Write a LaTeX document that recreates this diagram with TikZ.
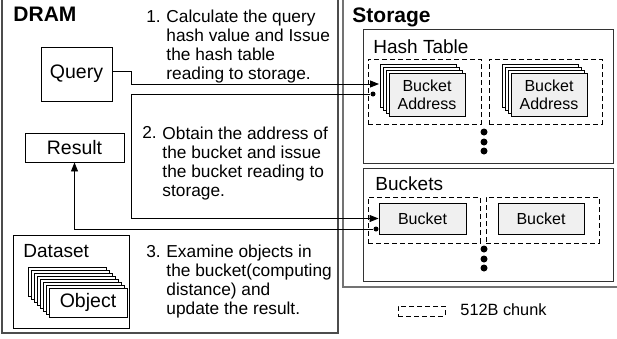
\documentclass[tikz,border=0pt]{standalone}
\usepackage{fontspec}
\setmainfont{Liberation Sans}
\usetikzlibrary{arrows.meta}
\tikzset{>={Triangle[length=9pt,width=7pt]}}
\tikzset{
  box/.style={draw,inner sep=0pt,font=\fontsize{19.5}{22}\selectfont},
  chunk/.style={draw,dash pattern=on 5pt off 3pt,line width=0.8pt,inner sep=0pt},
  cell/.style={draw,fill=black!6,inner sep=0pt,align=center,font=\fontsize{16}{18}\selectfont},
  steptext/.style={anchor=north west,align=left,inner sep=0pt,font=\fontsize{17.3}{19}\selectfont},
  title/.style={anchor=base west,inner sep=0pt,font=\bfseries\fontsize{21}{24}\selectfont},
  part/.style={anchor=base west,inner sep=0pt,font=\fontsize{19}{22}\selectfont},
  bullet/.style={circle,fill,inner sep=0pt,minimum size=5pt}
}
\begin{document}
\begin{tikzpicture}[x=1pt,y=-1pt,line width=0.9pt]
\clip (0,0) rectangle (617,338);

% DRAM side
\draw[line width=1.5pt,black!70] (2,-5) rectangle (338,333);
\node[title] (dram) at (13,21) {DRAM};
\node[box,minimum width=71pt,minimum height=54pt] (query) at (76.5,74) {Query};
\node[box,minimum width=99pt,minimum height=29pt] (result) at (74.5,147.5) {Result};
\node[draw,minimum width=116pt,minimum height=93pt] (dataset) at (71,281.5) {};
\node[part] at (23,257) {Dataset};
\foreach \i in {7,6,...,1}
  \draw[fill=white] ({49-3*\i},{288-3*\i}) rectangle ++(78,29);
\node[box,fill=white,minimum width=78pt,minimum height=29pt] (object) at (88,302.5) {Object};

% steps
\node[steptext] (step1) at (166,10) {Calculate the query\\hash value and Issue\\the hash table\\reading to storage.};
\node[steptext,anchor=north east] at (step1.north west) {1.~};
\node[steptext] (step2) at (162,126.4) {Obtain the address of\\the bucket and issue\\the bucket reading to\\storage.};
\node[steptext,anchor=north east] at (step2.north west) {2.~};
\node[steptext] (step3) at (166,244.5) {Examine objects in\\the bucket(computing\\distance) and\\update the result.};
\node[steptext,anchor=north east] at (step3.north west) {3.~};

% Storage side
\draw[line width=1.5pt,black!55] (343,-5) rectangle (630,287);
\node[title] (storage) at (352,22) {Storage};

% hash table
\node[draw,black!80,minimum width=250pt,minimum height=134pt] (hashtable) at (488,96) {};
\node[part] at (373,53) {Hash Table};
\node[chunk,minimum width=113pt,minimum height=65pt] (hchunk1) at (424.5,91.5) {};
\node[chunk,minimum width=113pt,minimum height=65pt] (hchunk2) at (545.5,91.5) {};
\foreach \x in {389,511}
  \foreach \i in {3,2,1}
    \draw[fill=white] ({\x-3*\i},{73-3*\i}) rectangle ++(76,43);
\node[cell,minimum width=76pt,minimum height=43pt] (addr1) at (427,94.5) {Bucket\\Address};
\node[cell,minimum width=76pt,minimum height=43pt] (addr2) at (549,94.5) {Bucket\\Address};
\foreach \y in {132,142,151}
  \fill (484,\y) circle (3.5pt);

% buckets
\node[draw,black!80,minimum width=250pt,minimum height=113pt] (buckets) at (488,224.5) {};
\node[part] at (375,190) {Buckets};
\node[chunk,minimum width=112pt,minimum height=46pt] (bchunk1) at (424,220) {};
\node[chunk,minimum width=113pt,minimum height=46pt] (bchunk2) at (542.5,220) {};
\node[cell,minimum width=87pt,minimum height=31pt] (bucket1) at (422.5,218.5) {Bucket};
\node[cell,minimum width=86pt,minimum height=31pt] (bucket2) at (541,218.5) {Bucket};
\foreach \y in {249,259,268}
  \fill (484,\y) circle (3.5pt);

% legend
\node[chunk,minimum width=47pt,minimum height=10pt] (key) at (421.5,311) {};
\node[anchor=west,inner sep=0pt,font=\fontsize{16.3}{18}\selectfont] (keytext) at (460,310) {512B chunk};

% connectors
\coordinate (turn0) at (131,84);
\coordinate (htin) at (379,84);
\draw[->] ([yshift=3pt]query.east) -| (turn0) -- (htin);
\node[bullet] (src1) at (373,94) {};
\coordinate (turn1) at (131,94);
\draw[->] (src1) -- (turn1) |- (bucket1.west);
\node[bullet] (src2) at (376,229) {};
\draw[->] (src2) -| (result.south);
\end{tikzpicture}
\end{document}
